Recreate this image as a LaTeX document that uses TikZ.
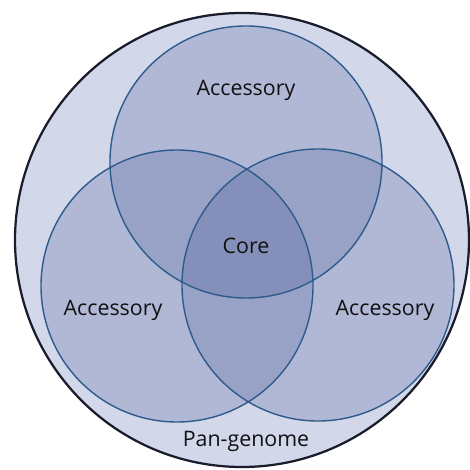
\documentclass[tikz,border=0pt]{standalone}
\usepackage{fontspec}
\setsansfont{Open Sans}
\usepackage{tikz}
\usetikzlibrary{shapes.geometric}
\usepackage{xcolor}
\definecolor{panFill}{HTML}{D3D7EA}
\definecolor{setFill}{HTML}{4F5F9A}
\definecolor{setLine}{HTML}{2F5B8C}
\definecolor{panLine}{HTML}{1A1C2C}
\definecolor{labelInk}{HTML}{111111}

\begin{document}
\begin{tikzpicture}[
  font=\sffamily,
  setdisc/.style={circle, minimum size=6.8cm, inner sep=0pt, outer sep=0pt, fill=setFill, fill opacity=0.25},
  setring/.style={line width=1.0pt, setLine},
  setlabel/.style={font=\sffamily\fontsize{15.2}{17}\selectfont, text=labelInk}
]
  \useasboundingbox (0, 0) rectangle (11.75, 11.75);

  % Pan-genome (outer)
  \draw[line width=1.6pt, panLine, fill=panFill] (6.05, 5.75) circle[radius=5.675];

  % Three genomes
  \node[setdisc] (genomeTop) at (6.15, 7.70) {};
  \node[setdisc] (genomeLeft) at (4.425, 4.60) {};
  \node[setdisc] (genomeRight) at (7.95, 4.625) {};
  \foreach \g in {genomeTop, genomeLeft, genomeRight} {
    \draw[setring] (\g) circle[radius=3.4];
  }

  % Labels
  \node[setlabel] (accTop) at (6.15, 9.5) {Accessory};
  \node[setlabel] (accLeft) at (2.825, 4.0) {Accessory};
  \node[setlabel] (accRight) at (9.625, 4.0) {Accessory};
  \node[setlabel] (core) at (6.15, 5.6) {Core};
  \node[setlabel] (pan) at (6.15, 0.72) {Pan-genome};

\end{tikzpicture}
\end{document}
